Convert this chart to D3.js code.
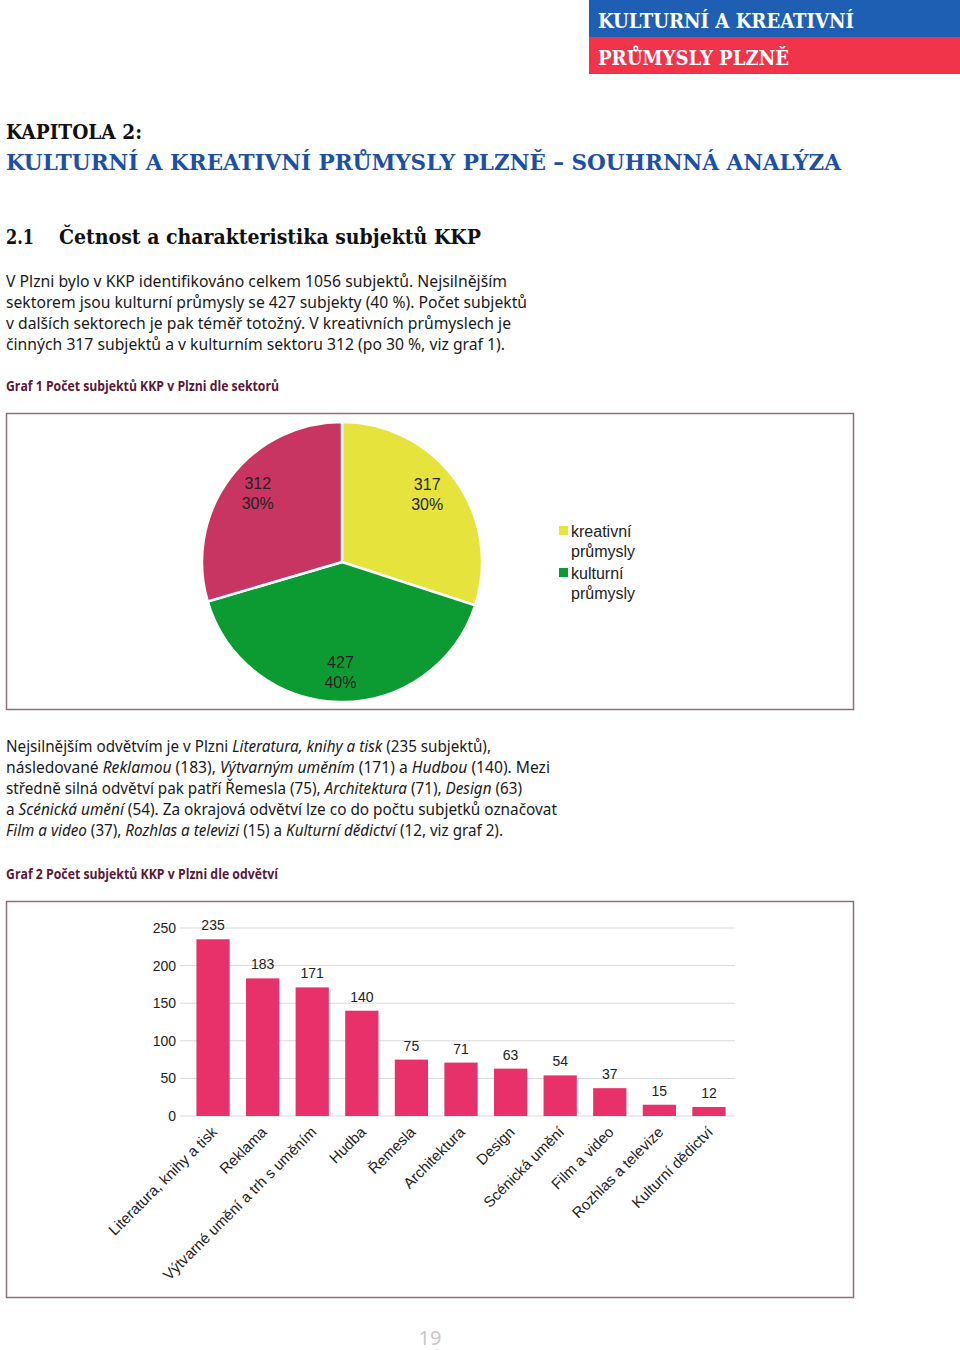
<!DOCTYPE html>
<html><head><meta charset="utf-8">
<script src="https://cdn.jsdelivr.net/npm/d3@7/dist/d3.min.js"></script>
<style>
html,body{margin:0;padding:0;background:#fff;}
svg{display:block;}
</style></head>
<body>
<svg id="page" width="960" height="1350"></svg>
<script>
// ---- DATA ----
const sectorNames = ["kreativní průmysly", "kulturní průmysly", "kulturní sektor"];
const sectorValues = [317, 427, 312];
const sectorPercents = ["30%", "40%", "30%"];
const legendItems = [["kreativní", "průmysly"], ["kulturní", "průmysly"]];

const branchNames = ["Literatura, knihy a tisk", "Reklama", "Výtvarné umění a trh s uměním", "Hudba", "Řemesla",
  "Architektura", "Design", "Scénická umění", "Film a video", "Rozhlas a televize", "Kulturní dědictví"];
const branchValues = [235, 183, 171, 140, 75, 71, 63, 54, 37, 15, 12];
const yTicks = [0, 50, 100, 150, 200, 250];

const para1 = [
  [["V Plzni bylo v KKP identifikováno celkem 1056 subjektů. Nejsilnějším", 0]],
  [["sektorem jsou kulturní průmysly se 427 subjekty (40 %). Počet subjektů", 0]],
  [["v dalších sektorech je pak téměř totožný. V kreativních průmyslech je", 0]],
  [["činných 317 subjektů a v kulturním sektoru 312 (po 30 %, viz graf 1).", 0]]
];
const para2 = [
  [["Nejsilnějším odvětvím je v Plzni ", 0], ["Literatura, knihy a tisk", 1], [" (235 subjektů),", 0]],
  [["následované ", 0], ["Reklamou", 1], [" (183), ", 0], ["Výtvarným uměním", 1], [" (171) a ", 0], ["Hudbou", 1], [" (140). Mezi", 0]],
  [["středně silná odvětví pak patří Řemesla (75), ", 0], ["Architektura", 1], [" (71), ", 0], ["Design", 1], [" (63)", 0]],
  [["a ", 0], ["Scénická umění", 1], [" (54). Za okrajová odvětví lze co do počtu subjetků označovat", 0]],
  [["Film a video", 1], [" (37), ", 0], ["Rozhlas a televizi", 1], [" (15) a ", 0], ["Kulturní dědictví", 1], [" (12, viz graf 2).", 0]]
];
const para1Widths = [501, 521, 505, 499];
const para2Widths = [485, 544, 516, 551, 497];

// ---- PAGE ----
const svg = d3.select("#page");
const slab = "'DejaVu Serif Condensed','DejaVu Serif',serif";
const body = "'Noto Sans','Open Sans',sans-serif";
const arial = "'Liberation Sans',Arial,sans-serif";

// header bands
svg.append("rect").attr("x", 589).attr("y", 0).attr("width", 371).attr("height", 37).attr("fill", "#1f5fb3");
svg.append("rect").attr("x", 589).attr("y", 37).attr("width", 371).attr("height", 37).attr("fill", "#f2344b");
svg.append("text").attr("x", 598).attr("y", 28).attr("font-family", slab).attr("font-weight", "bold")
  .attr("font-size", 21).attr("fill", "#fff").attr("textLength", 256).attr("lengthAdjust", "spacingAndGlyphs")
  .text("KULTURNÍ A KREATIVNÍ");
svg.append("text").attr("x", 598).attr("y", 65).attr("font-family", slab).attr("font-weight", "bold")
  .attr("font-size", 21).attr("fill", "#fff").attr("textLength", 191).attr("lengthAdjust", "spacingAndGlyphs")
  .text("PRŮMYSLY PLZNĚ");

svg.append("text").attr("x", 6).attr("y", 139).attr("font-family", slab).attr("font-weight", "bold").attr("font-size", 21)
  .attr("fill", "#111").attr("textLength", 136).attr("lengthAdjust", "spacingAndGlyphs").text("KAPITOLA 2:");
svg.append("text").attr("x", 6).attr("y", 170).attr("font-family", slab).attr("font-weight", "bold").attr("font-size", 23)
  .attr("fill", "#1b50a6").attr("textLength", 835).attr("lengthAdjust", "spacingAndGlyphs")
  .text("KULTURNÍ A KREATIVNÍ PRŮMYSLY PLZNĚ – SOUHRNNÁ ANALÝZA");
svg.append("text").attr("x", 6).attr("y", 244).attr("font-family", slab).attr("font-weight", "bold").attr("font-size", 21)
  .attr("fill", "#111").attr("textLength", 28).attr("lengthAdjust", "spacingAndGlyphs").text("2.1");
svg.append("text").attr("x", 59).attr("y", 244).attr("font-family", slab).attr("font-weight", "bold").attr("font-size", 21)
  .attr("fill", "#111").attr("textLength", 422).attr("lengthAdjust", "spacingAndGlyphs")
  .text("Četnost a charakteristika subjektů KKP");

function paragraph(lines, widths, y0) {
  lines.forEach((segs, i) => {
    const t = svg.append("text").attr("x", 6).attr("y", y0 + i * 21).attr("font-family", body)
      .attr("font-size", 15.5).attr("fill", "#1a1a1a")
      .attr("textLength", widths[i]).attr("lengthAdjust", "spacingAndGlyphs");
    segs.forEach(s => t.append("tspan").attr("font-style", s[1] ? "italic" : "normal").text(s[0]));
  });
}
paragraph(para1, para1Widths, 287);
paragraph(para2, para2Widths, 752);

function caption(txt, y, w) {
  svg.append("text").attr("x", 6).attr("y", y).attr("font-family", "'Open Sans','Noto Sans',sans-serif")
    .attr("font-weight", "bold").attr("font-size", 15).attr("fill", "#5b1838")
    .attr("textLength", w).attr("lengthAdjust", "spacingAndGlyphs").text(txt);
}
caption("Graf 1 Počet subjektů KKP v Plzni dle sektorů", 391, 273);
caption("Graf 2 Počet subjektů KKP v Plzni dle odvětví", 879, 272);

// ---- CHART 1: PIE ----
svg.append("rect").attr("x", 6.5).attr("y", 413.5).attr("width", 847).attr("height", 296)
  .attr("fill", "none").attr("stroke", "#8c6f7c").attr("stroke-width", 1.5);

const pieColors = ["#e6e33d", "#0c9b33", "#c93562"];
const pieG = svg.append("g").attr("transform", "translate(342,562)");
const pie = d3.pie().sort(null).value(d => d);
const arcs = pie(sectorValues);
const arc = d3.arc().innerRadius(0).outerRadius(140);
const labelArc = d3.arc().innerRadius(112).outerRadius(112);
pieG.selectAll("path").data(arcs).join("path").attr("d", arc)
  .attr("fill", (d, i) => pieColors[i]).attr("stroke", "#fff").attr("stroke-width", 2.5);
arcs.forEach((d, i) => {
  const c = labelArc.centroid(d);
  const t = pieG.append("text").attr("text-anchor", "middle").attr("font-family", arial)
    .attr("font-size", 16).attr("fill", "#222");
  t.append("tspan").attr("x", c[0] * 0.94).attr("y", c[1] - 6).text(sectorValues[i]);
  t.append("tspan").attr("x", c[0] * 0.94).attr("y", c[1] + 14).text(sectorPercents[i]);
});
legendItems.forEach((lines, i) => {
  const y = 526 + i * 42;
  svg.append("rect").attr("x", 559).attr("y", y).attr("width", 9).attr("height", 9).attr("fill", pieColors[i]);
  lines.forEach((l, j) => svg.append("text").attr("x", 571).attr("y", y + 11 + j * 20)
    .attr("font-family", arial).attr("font-size", 16).attr("fill", "#222").text(l));
});

// ---- CHART 2: BARS ----
svg.append("rect").attr("x", 6.5).attr("y", 901.5).attr("width", 847).attr("height", 396)
  .attr("fill", "none").attr("stroke", "#8c6f7c").attr("stroke-width", 1.5);

const x = d3.scaleBand().domain(branchNames).range([188, 734]).paddingInner(0.33).paddingOuter(0.17);
const y = d3.scaleLinear().domain([0, 250]).range([1116, 928]);
const gb = svg.append("g");
gb.selectAll("line.grid").data(yTicks).join("line").attr("class", "grid")
  .attr("x1", 180).attr("x2", 735).attr("y1", d => y(d)).attr("y2", d => y(d))
  .attr("stroke", "#d9d9d9").attr("stroke-width", 1);
gb.selectAll("text.yt").data(yTicks).join("text").attr("class", "yt")
  .attr("x", 176).attr("y", d => y(d) + 5).attr("text-anchor", "end")
  .attr("font-family", arial).attr("font-size", 14).attr("fill", "#222").text(d => d);
gb.selectAll("rect.bar").data(branchValues).join("rect").attr("class", "bar")
  .attr("x", (d, i) => x(branchNames[i])).attr("width", x.bandwidth())
  .attr("y", d => y(d)).attr("height", d => y(0) - y(d)).attr("fill", "#e8306a");
gb.selectAll("text.val").data(branchValues).join("text").attr("class", "val")
  .attr("x", (d, i) => x(branchNames[i]) + x.bandwidth() / 2).attr("y", d => y(d) - 9)
  .attr("text-anchor", "middle").attr("font-family", arial).attr("font-size", 14).attr("fill", "#222").text(d => d);
gb.selectAll("text.xl").data(branchNames).join("text").attr("class", "xl")
  .attr("transform", d => `translate(${x(d) + x.bandwidth() / 2 + 5},1133) rotate(-45)`)
  .attr("text-anchor", "end").attr("font-family", arial).attr("font-size", 15).attr("fill", "#222").text(d => d);

// page number
svg.append("text").attr("x", 430).attr("y", 1345).attr("text-anchor", "middle").attr("font-family", body)
  .attr("font-size", 20).attr("fill", "#c8c8c8").text("19");
</script>
</body></html>
